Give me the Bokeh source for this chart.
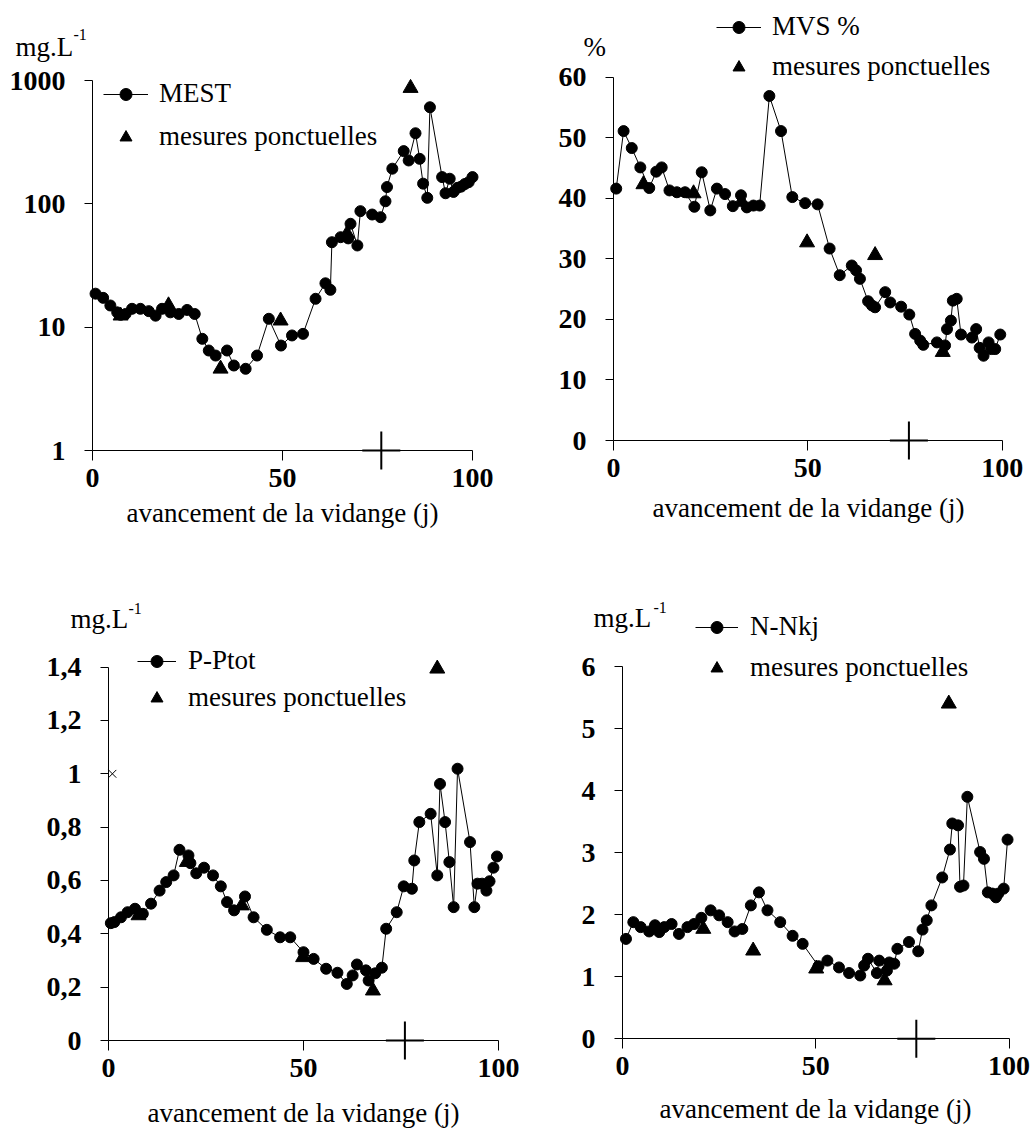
from bokeh.plotting import figure
from bokeh.layouts import row, column
from bokeh.models import (FixedTicker, Legend, LegendItem, Label,
                          PrintfTickFormatter, CustomJSTickFormatter, Range1d)
from bokeh.embed import file_html
from bokeh.resources import INLINE

SERIF = "Liberation Serif"

# ---------------- data ----------------
X_TICKS = [0, 50, 100]
X_LABEL = "avancement de la vidange (j)"
MARK_DAY = [76]          # position of the "+" marker on each x axis

# MEST (mg/L, log axis)
mest_day = [0.8, 2.8, 4.7, 6.5, 7.4, 8.7, 10.4, 12.6, 14.8, 16.6, 18.3, 20.5, 22.7, 24.9,
            26.9, 28.9, 30.6, 32.4, 35.4, 37.2, 40.3, 43.3, 46.4, 49.6, 52.5, 55.4, 58.7,
            61.3, 62.6, 63.0, 65.3, 67.3, 67.9, 69.7, 70.5, 73.6, 75.8, 77.1, 77.5, 78.9,
            81.9, 83.2, 85.0, 86.1, 87.0, 88.1, 88.8, 92.0, 92.9, 94.0, 95.0, 96.0, 97.0,
            98.0, 99.0, 100.0]
mest_val = [18.7, 17.3, 15.0, 13.2, 12.6, 12.8, 14.1, 14.1, 13.5, 12.4, 14.1, 13.2, 12.8, 13.8,
            12.8, 8.05, 6.47, 5.89, 6.47, 4.89, 4.6, 5.89, 11.7, 7.1, 8.57, 8.83, 17.0,
            22.7, 20.1, 48.9, 53.7, 52.5, 69.0, 46.0, 87.3, 82.0, 78.0, 105.0, 137.0, 193.0,
            268.0, 225.0, 374.0, 232.0, 146.0, 112.0, 608.0, 165.0, 122.0, 160.0, 125.0, 135.0,
            138.0, 145.0, 150.0, 165.0]
mest_pt_day = [7.4, 20.0, 33.7, 49.5, 67.0, 83.7]
mest_pt_val = [12.4, 15.0, 4.6, 11.3, 57.2, 870.0]

# MVS %
mvs_day = [0.7, 2.6, 4.7, 6.9, 9.2, 11.0, 12.4, 14.4, 16.3, 18.4, 20.8, 22.7, 24.9, 26.6,
           28.7, 30.7, 32.8, 34.3, 36.0, 37.6, 40.1, 43.1, 46.0, 49.3, 52.5, 55.6, 58.2,
           61.3, 62.4, 63.4, 65.5, 66.5, 67.3, 69.9, 71.2, 74.0, 76.1, 77.6, 78.9, 79.7,
           83.2, 85.3, 85.8, 86.8, 87.3, 88.3, 89.4, 92.2, 93.3, 94.2, 95.2, 96.5, 97.2,
           98.2, 99.5]
mvs_val = [41.6, 51.1, 48.3, 45.1, 41.7, 44.4, 45.1, 41.3, 41.0, 41.0, 38.6, 44.3, 38.0, 41.6,
           40.7, 38.7, 40.5, 38.5, 38.8, 38.8, 56.9, 51.1, 40.2, 39.2, 39.0, 31.7, 27.3,
           28.9, 28.1, 26.7, 23.0, 22.3, 22.0, 24.5, 22.8, 22.1, 20.8, 17.6, 16.5, 15.8,
           16.2, 15.7, 18.4, 19.8, 23.1, 23.4, 17.5, 17.0, 18.4, 15.3, 14.0, 16.2, 15.1,
           15.1, 17.5]
mvs_pt_day = [7.7, 20.6, 33.0, 49.8, 67.3, 84.7]
mvs_pt_val = [42.3, 40.8, 39.4, 32.7, 30.6, 14.6]

# P-Ptot (mg/L)
p_day = [0.6, 1.5, 3.2, 4.9, 6.8, 8.8, 10.9, 13.1, 14.8, 16.7, 18.2, 20.5, 21.0, 22.5,
         24.5, 26.8, 28.8, 30.4, 32.2, 35.0, 37.2, 40.6, 44.0, 46.6, 50.0, 52.6, 55.8,
         58.7, 61.1, 62.6, 63.7, 66.0, 66.7, 68.4, 70.1, 71.2, 73.9, 75.7, 77.8, 78.4,
         79.7, 82.6, 84.3, 85.0, 86.3, 87.4, 88.5, 89.5, 92.7, 93.8, 94.6, 95.8, 96.9,
         97.7, 98.7, 99.6]
p_val = [0.44, 0.444, 0.462, 0.481, 0.494, 0.475, 0.513, 0.562, 0.594, 0.619, 0.715, 0.694,
         0.665, 0.627, 0.648, 0.619, 0.578, 0.519, 0.488, 0.540, 0.462, 0.415, 0.387, 0.387,
         0.331, 0.306, 0.269, 0.254, 0.212, 0.244, 0.285, 0.263, 0.225, 0.252, 0.273, 0.419,
         0.481, 0.578, 0.569, 0.675, 0.819, 0.850, 0.619, 0.962, 0.819, 0.669, 0.500, 1.019,
         0.744, 0.500, 0.588, 0.588, 0.562, 0.597, 0.648, 0.690]
p_pt_day = [7.7, 20.1, 34.2, 49.9, 67.8, 84.3]
p_pt_val = [0.469, 0.669, 0.506, 0.312, 0.187, 1.394]
p_odd_day = [1.0]       # isolated "x" mark on the y axis
p_odd_val = [1.0]

# N-Nkj (mg/L)
n_day = [0.9, 2.8, 4.7, 6.9, 8.4, 9.5, 10.8, 12.7, 14.6, 16.8, 18.5, 20.4, 22.8, 25.0,
         27.2, 29.0, 31.0, 33.2, 35.3, 37.5, 40.8, 44.0, 46.6, 50.7, 53.0, 56.0, 58.6,
         61.5, 62.5, 63.5, 65.8, 66.4, 68.4, 69.0, 70.3, 71.1, 74.1, 76.5, 77.6, 78.7,
         79.9, 82.7, 84.7, 85.3, 86.8, 87.3, 88.2, 89.2, 92.5, 93.5, 94.5, 95.7, 96.6,
         97.2, 98.6, 99.6]
n_val = [1.61, 1.88, 1.80, 1.73, 1.83, 1.72, 1.80, 1.85, 1.69, 1.80, 1.85, 1.95, 2.07, 1.99,
         1.88, 1.73, 1.77, 2.15, 2.36, 2.07, 1.88, 1.66, 1.53, 1.17, 1.26, 1.15, 1.06,
         1.02, 1.18, 1.29, 1.06, 1.26, 1.10, 1.23, 1.21, 1.45, 1.56, 1.41, 1.76, 1.91,
         2.15, 2.60, 3.05, 3.47, 3.44, 2.45, 2.47, 3.90, 3.01, 2.90, 2.36, 2.34, 2.28,
         2.34, 2.42, 3.21]
n_pt_day = [20.9, 33.8, 50.1, 67.8, 84.4]
n_pt_val = [1.77, 1.42, 1.13, 0.94, 5.40]

MEST_TICKS = [1, 10, 100, 1000]
MVS_TICKS = [0, 10, 20, 30, 40, 50, 60]
P_TICKS = [0, 0.2, 0.4, 0.6, 0.8, 1, 1.2, 1.4]
N_TICKS = [0, 1, 2, 3, 4, 5, 6]


# ---------------- geometry helpers (pixel layout of each panel) ----------------
class Geo:
    def __init__(self, left, top, w, h, ax_x, ppd, ax_y, ppu, log=False):
        self.left, self.top, self.w, self.h = left, top, w, h
        self.ax_x, self.ppd, self.ax_y, self.ppu, self.log = ax_x, ppd, ax_y, ppu, log

    def dx(self, px):
        return (px - self.ax_x) / self.ppd

    def dy(self, py):
        v = (self.ax_y - py) / self.ppu
        return 10 ** v if self.log else v

    def xr(self):
        return Range1d(self.dx(self.left), self.dx(self.left + self.w))

    def yr(self):
        return Range1d(self.dy(self.top + self.h), self.dy(self.top))


def make_fig(g, y_ticks, y0):
    p = figure(frame_width=g.w, frame_height=g.h, min_border=0,
               min_border_left=0, min_border_right=0, min_border_top=0, min_border_bottom=0,
               x_range=g.xr(), y_range=g.yr(),
               y_axis_type="log" if g.log else "linear",
               output_backend="svg", toolbar_location=None)
    p.outline_line_color = None
    p.grid.visible = False
    p.background_fill_color = "white"
    p.border_fill_color = "white"
    for ax in (p.xaxis[0], p.yaxis[0]):
        ax.axis_line_color = "black"
        ax.axis_line_width = 1
        ax.major_tick_line_color = "black"
        ax.major_tick_in = 0
        ax.major_label_text_font = SERIF
        ax.major_label_text_font_style = "bold"
        ax.major_label_text_font_size = "28px"
        ax.major_label_text_color = "black"
    xa = p.xaxis[0]
    xa.ticker = FixedTicker(ticks=X_TICKS)
    xa.minor_tick_line_color = None
    xa.bounds = (0, 100)
    xa.fixed_location = y0
    xa.major_tick_out = 10
    xa.major_label_standoff = 8
    ya = p.yaxis[0]
    ya.ticker = FixedTicker(ticks=y_ticks)
    ya.minor_tick_line_color = None
    ya.bounds = (y_ticks[0], y_ticks[-1])
    ya.fixed_location = 0
    ya.major_tick_out = 8
    ya.major_label_standoff = 19
    return p


def add_series(p, g, d, v, pd_, pv, name, leg_left, leg_top, gw, standoff, spacing):
    lr = p.line(d, v, line_color="black", line_width=1)
    cr = p.scatter(d, v, marker="circle", size=11, fill_color="black", line_color="black")
    tr = p.scatter(pd_, pv, marker="triangle", size=15, fill_color="black", line_color="black")
    p.scatter(MARK_DAY, [g.dy(g.ax_y)] * len(MARK_DAY), marker="cross", size=38,
              line_color="black", line_width=2)
    leg_h = 30 + spacing + 30
    leg = Legend(items=[LegendItem(label=name, renderers=[lr, cr]),
                        LegendItem(label="mesures ponctuelles", renderers=[tr])],
                 location=(leg_left - g.left, g.top + g.h - (leg_top + leg_h)),
                 orientation="vertical",
                 glyph_width=gw, glyph_height=30, label_height=30,
                 label_standoff=standoff, spacing=spacing, padding=0, margin=0,
                 border_line_color=None, background_fill_alpha=0,
                 label_text_font=SERIF, label_text_font_size="27px",
                 label_text_color="black")
    p.add_layout(leg)


def add_text(p, g, txt, px, py, size="27px", align="left"):
    p.add_layout(Label(x=g.dx(px), y=g.dy(py), text=txt, text_font=SERIF,
                       text_font_size=size, text_color="black",
                       text_align=align, text_baseline="alphabetic"))


# ---------------- panel 1 : MEST ----------------
g1 = Geo(0, 0, 520, 570, 92, 3.8, 450, 123.3, log=True)
p1 = make_fig(g1, MEST_TICKS, 1)
p1.yaxis[0].formatter = PrintfTickFormatter(format="%d")
add_series(p1, g1, mest_day, mest_val, mest_pt_day, mest_pt_val, "MEST", 103, 80, 45, 11, 12)
add_text(p1, g1, "mg.L", 15, 46)
add_text(p1, g1, "-1", 73, 34, size="16px")
add_text(p1, g1, X_LABEL, 282, 512, align="center")

# ---------------- panel 2 : MVS % ----------------
g2 = Geo(520, 0, 510, 570, 613, 3.887, 440, 6.055)
p2 = make_fig(g2, MVS_TICKS, 0)
add_series(p2, g2, mvs_day, mvs_val, mvs_pt_day, mvs_pt_val, "MVS %", 716, 13, 45, 11, 9)
add_text(p2, g2, "%", 583, 46)
add_text(p2, g2, X_LABEL, 808, 507, align="center")

# ---------------- panel 3 : P-Ptot ----------------
g3 = Geo(0, 570, 520, 558, 108, 3.9, 1040, 266.7)
p3 = make_fig(g3, P_TICKS, 0)
p3.yaxis[0].formatter = CustomJSTickFormatter(code="return tick.toString().replace('.', ',');")
add_series(p3, g3, p_day, p_val, p_pt_day, p_pt_val, "P-Ptot", 137, 647, 39, 12, 6)
p3.scatter(p_odd_day, p_odd_val, marker="x", size=11, line_color="black", line_width=1)
add_text(p3, g3, "mg.L", 70, 618)
add_text(p3, g3, "-1", 128, 608, size="16px")
add_text(p3, g3, X_LABEL, 303, 1112, align="center")

# ---------------- panel 4 : N-Nkj ----------------
g4 = Geo(520, 570, 510, 558, 622, 3.866, 1038.3, 62.05)
p4 = make_fig(g4, N_TICKS, 0)
add_series(p4, g4, n_day, n_val, n_pt_day, n_pt_val, "N-Nkj", 695, 613, 43, 12, 10)
add_text(p4, g4, "mg.L", 593, 617)
add_text(p4, g4, "-1", 653, 607, size="16px")
add_text(p4, g4, X_LABEL, 815, 1108, align="center")

layout = column(row(p1, p2), row(p3, p4))
open("out.html", "w").write(file_html(layout, INLINE))
